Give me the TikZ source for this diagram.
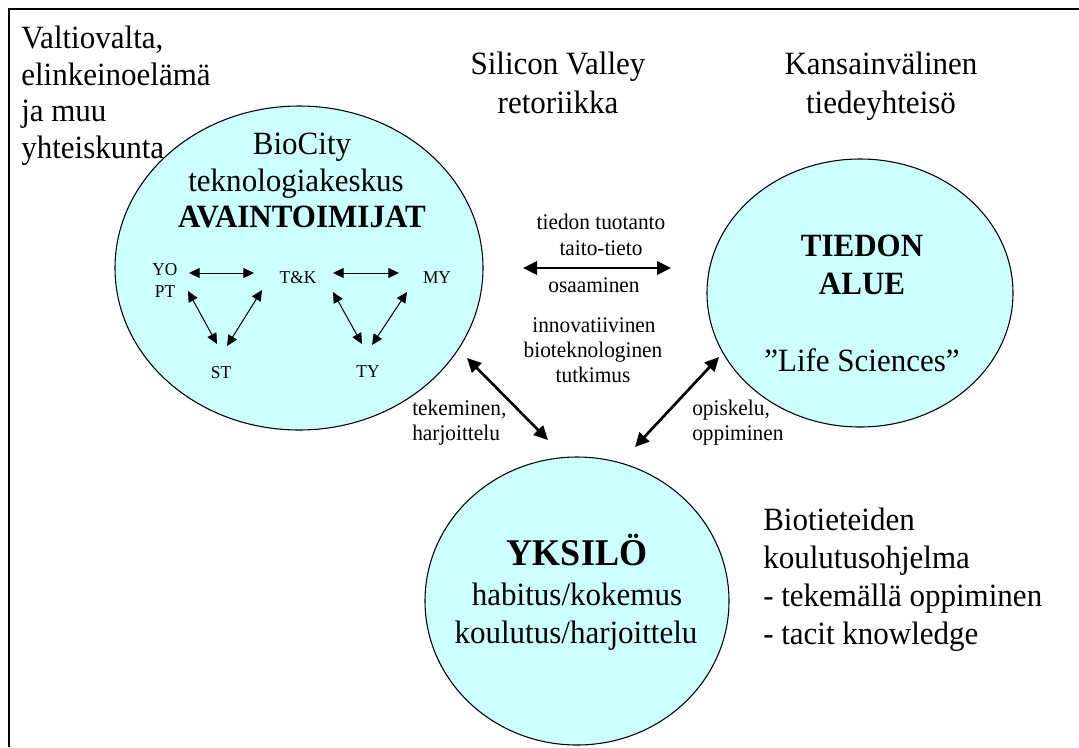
\documentclass[tikz,border=0pt]{standalone}
\usepackage{fontspec}
\setmainfont[FakeStretch=0.955]{Liberation Serif}
\usetikzlibrary{shapes.geometric,arrows.meta}
\definecolor{cyanfill}{HTML}{CCFFFF}
\newcommand\fbig{\fontsize{24.35pt}{28pt}\selectfont}
\newcommand\fmid{\fontsize{16.75pt}{19pt}\selectfont}
\newcommand\fsmall{\fontsize{13.6pt}{15pt}\selectfont}
\newcommand\fyk{\fontsize{28.3pt}{32pt}\selectfont}
\tikzset{
  blob/.style={ellipse, draw=black, line width=0.8pt, fill=cyanfill, inner sep=0pt},
  bt/.style={font=\fbig, inner sep=0pt, anchor=base},
  btw/.style={font=\fbig, inner sep=0pt, anchor=base west},
  mt/.style={font=\fmid, inner sep=0pt, anchor=base},
  mtw/.style={font=\fmid, inner sep=0pt, anchor=base west},
  st/.style={font=\fsmall, inner sep=0pt, anchor=base},
  bigarrow/.style={line width=2pt, {Triangle[length=10.5pt,width=10pt]}-{Triangle[length=10.5pt,width=10pt]}},
  smallarrow/.style={line width=0.75pt, {Triangle[length=8pt,width=7.5pt]}-{Triangle[length=8pt,width=7.5pt]}}
}
\begin{document}
\begin{tikzpicture}[x=0.75pt,y=-0.75pt]
\useasboundingbox (0,0) rectangle (1079,747);
\fill[white] (0,0) rectangle (1079,747);
% frame (top and left only)
\draw[line width=1.5pt, line join=miter] (9,747) -- (9,9) -- (1079,9);

% ellipses
\node[blob, minimum width=276pt, minimum height=243pt] (bio) at (299,268) {};
\node[blob, minimum width=229.5pt, minimum height=201pt] (tied) at (860,293) {};
\node[blob, minimum width=228pt, minimum height=216pt] (yks) at (577,601) {};

% left top text
\node[btw] (v1) at (21,48) {Valtiovalta,};
\node[btw] (v2) at (21,85) {elinkeinoelämä};
\node[btw] (v3) at (21,121) {ja muu};
\node[btw] (v4) at (21,158) {yhteiskunta};

% top middle / right
\node[bt] (sv1) at (558,74) {Silicon Valley};
\node[bt] (sv2) at (558,113) {retoriikka};
\node[bt] (ka1) at (881,74) {Kansainvälinen};
\node[bt] (ka2) at (881,113) {tiedeyhteisö};

% BioCity ellipse text
\node[bt] (b1) at (302,154) {BioCity};
\node[bt] (b2) at (296,191) {teknologiakeskus};
\node[bt, font=\fbig\bfseries] (b3) at (302,227) {AVAINTOIMIJAT};

% small diagram
\node[st] (yo) at (165,275) {YO};
\node[st] (pt) at (165,297) {PT};
\node[st] (tk) at (298,283) {T\&K};
\node[st] (my) at (437,283) {MY};
\node[st] (stn) at (221,378) {ST};
\node[st] (ty) at (368,377) {TY};
\coordinate (a1s) at (189,273); \coordinate (a1e) at (254,273);
\coordinate (a2s) at (333,273); \coordinate (a2e) at (399,273);
\coordinate (a3s) at (188,291); \coordinate (a3e) at (217,344);
\coordinate (a4s) at (262,290); \coordinate (a4e) at (227,346);
\coordinate (a5s) at (333,292); \coordinate (a5e) at (362,344);
\coordinate (a6s) at (407,292); \coordinate (a6e) at (372,345);
\draw[smallarrow] (a1s) -- (a1e);
\draw[smallarrow] (a2s) -- (a2e);
\draw[smallarrow] (a3s) -- (a3e);
\draw[smallarrow] (a4s) -- (a4e);
\draw[smallarrow] (a5s) -- (a5e);
\draw[smallarrow] (a6s) -- (a6e);

% right ellipse text
\node[bt, font=\fbig\bfseries] (t1) at (862,256) {TIEDON};
\node[bt, font=\fbig\bfseries] (t2) at (862,294) {ALUE};
\node[bt] (t3) at (862,371) {”Life Sciences”};

% bottom ellipse text
\node[bt, font=\fyk\bfseries] (y1) at (577,565) {YKSILÖ};
\node[bt] (y2) at (577,605) {habitus/kokemus};
\node[bt] (y3) at (576,643) {koulutus/harjoittelu};

% middle texts
\node[mt] (m1) at (601,229) {tiedon tuotanto};
\node[mt] (m2) at (601,255) {taito-tieto};
\node[mt] (m3) at (594,292) {osaaminen};
\node[mt] (m4) at (594,332) {innovatiivinen};
\node[mt] (m5) at (593,357) {bioteknologinen};
\node[mt] (m6) at (593,382) {tutkimus};
\node[mtw] (l1) at (412,415) {tekeminen,};
\node[mtw] (l2) at (412,440) {harjoittelu};
\node[mtw] (r1) at (692,415) {opiskelu,};
\node[mtw] (r2) at (692,440) {oppiminen};

% big arrows
\coordinate (h1) at (523,268); \coordinate (h2) at (671,268);
\coordinate (d1) at (467,358); \coordinate (d2) at (548,440);
\coordinate (e1) at (635,447); \coordinate (e2) at (719,357);
\draw[bigarrow] (h1) -- (h2);
\draw[bigarrow] (d1) -- (d2);
\draw[bigarrow] (e1) -- (e2);

% right bottom text
\node[btw] (k1) at (763,530) {Biotieteiden};
\node[btw] (k2) at (763,568) {koulutusohjelma};
\node[btw] (k3) at (763,606) {- tekemällä oppiminen};
\node[btw] (k4) at (763,644) {- tacit knowledge};
\end{tikzpicture}
\end{document}
